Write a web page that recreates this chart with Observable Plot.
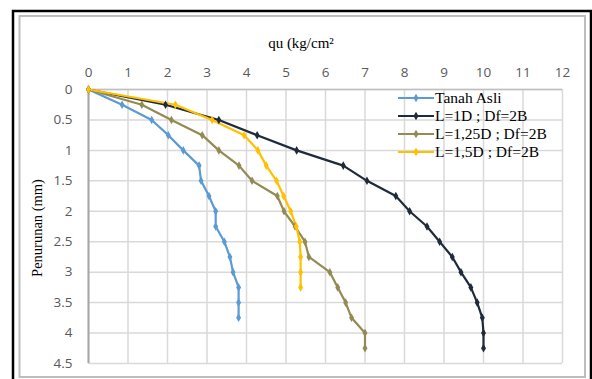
<!DOCTYPE html>
<html>
<head>
<meta charset="utf-8">
<script src="https://cdn.jsdelivr.net/npm/d3@7"></script>
<script src="https://cdn.jsdelivr.net/npm/@observablehq/plot@0.6"></script>
<style>
  html, body { margin: 0; padding: 0; background: #fff; }
  #chart { position: relative; width: 592px; height: 379px; overflow: hidden; }
</style>
</head>
<body>
<div id="chart"></div>
<script>
// ---- data ----
const seriesNames = ["Tanah Asli", "L=1D ; Df=2B", "L=1,25D ; Df=2B", "L=1,5D ; Df=2B"];
const seriesColors = ["#5b9bd5", "#1f2a3a", "#948a54", "#ffc000"];
const settlementSteps = [0, 0.25, 0.5, 0.75, 1, 1.25, 1.5, 1.75, 2, 2.25, 2.5, 2.75, 3, 3.25, 3.5, 3.75, 4, 4.25];
const quTanahAsli = [0, 0.85, 1.6, 2.02, 2.4, 2.8, 2.85, 3.05, 3.22, 3.22, 3.44, 3.58, 3.66, 3.8, 3.8, 3.8];
const quL1D = [0, 1.95, 3.3, 4.27, 5.27, 6.45, 7.05, 7.78, 8.13, 8.57, 8.89, 9.21, 9.43, 9.68, 9.84, 9.97, 10, 10];
const quL125D = [0, 1.35, 2.1, 2.88, 3.3, 3.81, 4.14, 4.78, 4.95, 5.23, 5.48, 5.58, 6.11, 6.31, 6.51, 6.66, 7.0, 7.0];
const quL15D = [0, 2.2, 3.13, 3.94, 4.29, 4.5, 4.76, 4.94, 5.12, 5.26, 5.35, 5.37, 5.37, 5.37];
const xTicks = [0, 1, 2, 3, 4, 5, 6, 7, 8, 9, 10, 11, 12];
const yTicks = [0, 0.5, 1, 1.5, 2, 2.5, 3, 3.5, 4, 4.5];
const xTitle = "qu (kg/cm\u00B2";
const yTitle = "Penurunan (mm)";

const seriesValues = [quTanahAsli, quL1D, quL125D, quL15D];
const rows = [];
seriesValues.forEach((vals, i) => {
  vals.forEach((v, j) => rows.push({series: seriesNames[i], qu: v, s: settlementSteps[j]}));
});

const tickFont = "'Open Sans', 'Noto Sans', sans-serif";
const serif = "'Liberation Serif', 'DejaVu Serif', serif";

const chart = Plot.plot({
  width: 592,
  height: 379,
  marginLeft: 88,
  marginRight: 30,
  marginTop: 89,
  marginBottom: 16,
  style: {background: "#fff", fontFamily: tickFont, fontSize: "13.5px", color: "#595959", overflow: "visible"},
  x: {domain: [0, 12], ticks: xTicks},
  y: {domain: [0, 4.5], ticks: yTicks, reverse: true},
  color: {domain: seriesNames, range: seriesColors},
  marks: [
    Plot.gridX(xTicks, {stroke: "#d9d9d9", strokeOpacity: 1, strokeWidth: 1.5}),
    Plot.gridY(yTicks, {stroke: "#d9d9d9", strokeOpacity: 1, strokeWidth: 1.5}),
    Plot.ruleX([0], {stroke: "#a6a6a6", strokeWidth: 2}),
    Plot.ruleY([0], {stroke: "#bfbfbf", strokeWidth: 1.5}),
    Plot.axisX({anchor: "top", ticks: xTicks, tickSize: 0, tickPadding: 13, label: null, tickFormat: d => String(d), fill: "#595959"}),
    Plot.axisY({anchor: "left", ticks: yTicks, tickSize: 0, tickPadding: 16, label: null, tickFormat: d => String(d), fill: "#595959"}),
    Plot.line(rows, {x: "qu", y: "s", z: "series", stroke: "series", strokeWidth: 2.2}),
    Plot.dot(rows, {x: "qu", y: "s", fill: "series", symbol: "diamond", r: 2.6})
  ]
});

const svg = d3.select(chart);
// Outer frames (decoration of the source figure)
svg.insert("rect", ":first-child")
  .attr("x", 19.5).attr("y", 16).attr("width", 565.5).attr("height", 361)
  .attr("fill", "none").attr("stroke", "#bdbdbd").attr("stroke-width", 2);
svg.append("path")
  .attr("d", "M13,379 V11 H591 V379")
  .attr("fill", "none").attr("stroke", "#000").attr("stroke-width", 2.5);

// Titles
svg.append("text").attr("x", 301).attr("y", 48).attr("text-anchor", "middle")
  .style("font-family", serif).style("font-size", "15px").attr("fill", "#000").text(xTitle);
svg.append("text").attr("transform", "translate(42,228) rotate(-90)").attr("text-anchor", "middle")
  .style("font-family", serif).style("font-size", "14.5px").attr("fill", "#000").text(yTitle);

// Legend
const lg = svg.append("g");
seriesNames.forEach((name, i) => {
  const y = 98 + i * 18;
  lg.append("line").attr("x1", 398).attr("x2", 434).attr("y1", y).attr("y2", y)
    .attr("stroke", seriesColors[i]).attr("stroke-width", 2.2);
  lg.append("path").attr("d", d3.symbol(d3.symbolDiamond, 22)()).attr("transform", `translate(416,${y})`)
    .attr("fill", seriesColors[i]);
  lg.append("text").attr("x", 435).attr("y", y + 5).attr("text-anchor", "start")
    .style("font-family", serif).style("font-size", "15.5px")
    .attr("fill", "#000").text(name);
});

document.getElementById("chart").appendChild(chart);
</script>
</body>
</html>
